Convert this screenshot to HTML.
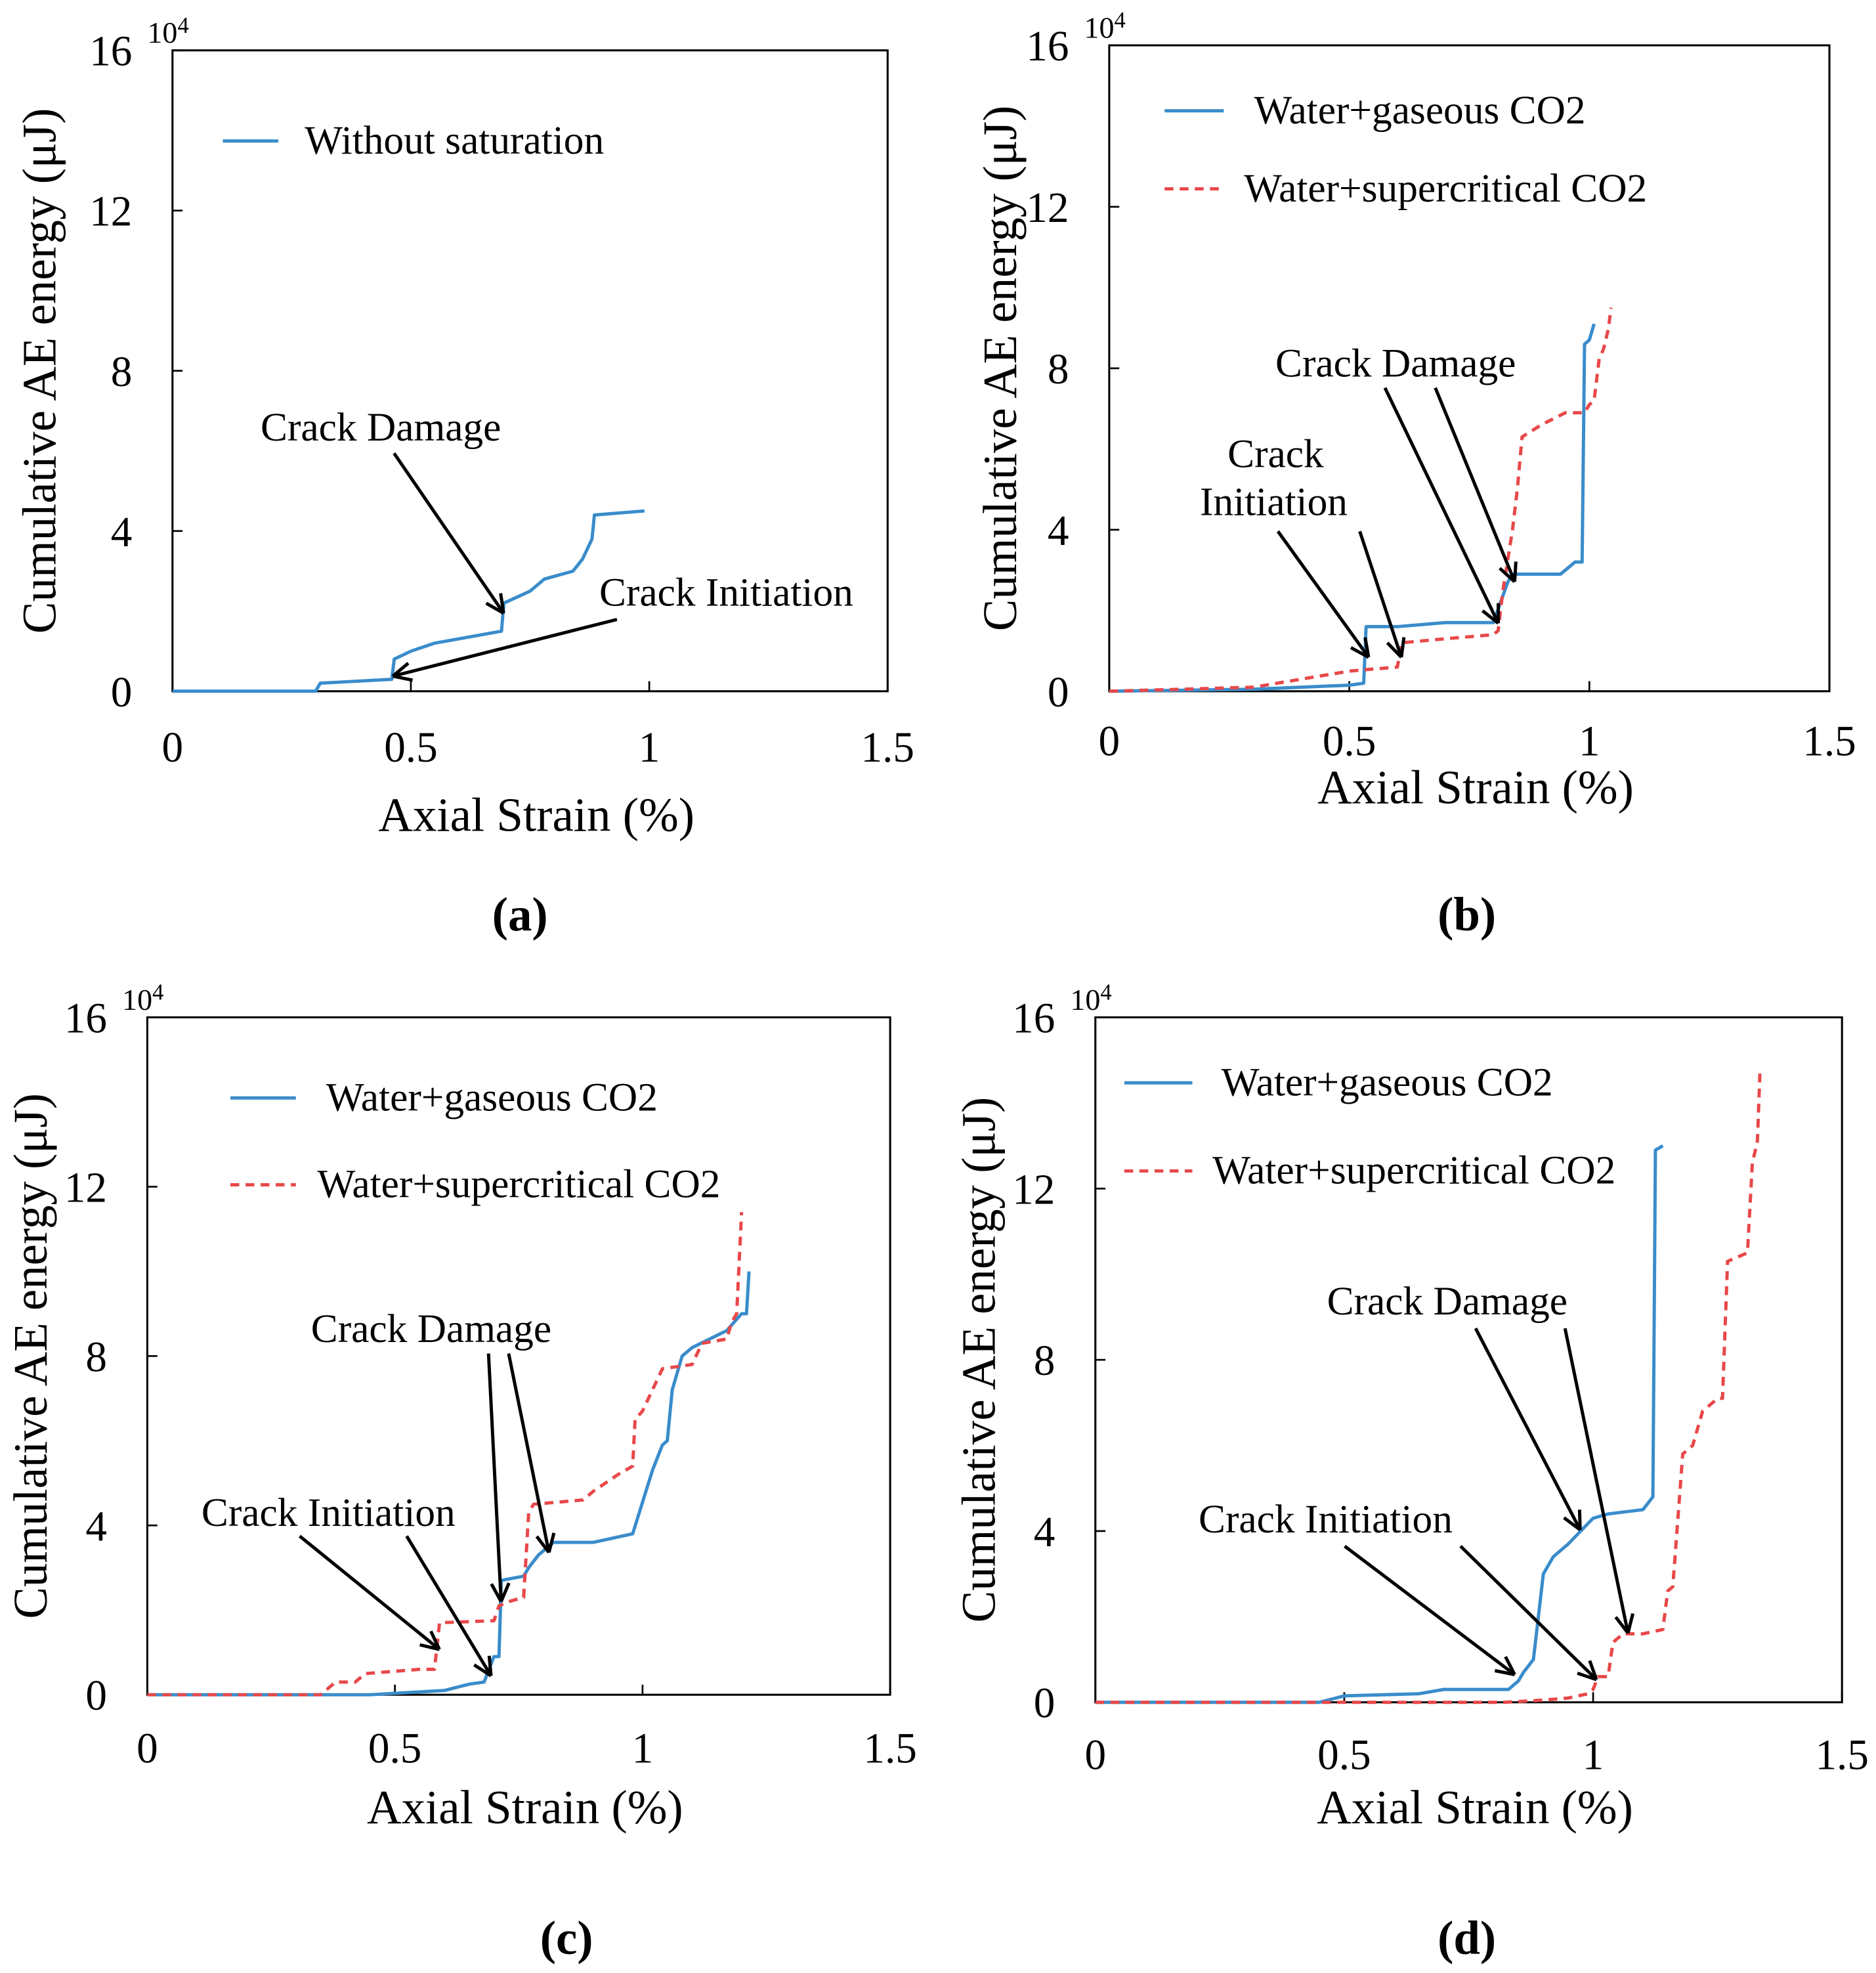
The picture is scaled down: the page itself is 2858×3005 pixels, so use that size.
<!DOCTYPE html>
<html><head><meta charset="utf-8"><style>
html,body{margin:0;padding:0;background:#fff;}
svg{display:block;font-family:"Liberation Serif",serif;}
</style></head><body>
<svg id="fig" width="2858" height="3005" viewBox="0 0 1490 1567" preserveAspectRatio="none" xmlns="http://www.w3.org/2000/svg"></svg>
<script>
const xTicks=[0,0.5,1,1.5];
const xTickLabels=["0","0.5","1","1.5"];
const yTicks=[0,4,8,12,16];
const yTickLabels=["0","4","8","12","16"];
const aBlueX=[0,0.3,0.31,0.46,0.465,0.5,0.55,0.69,0.695,0.75,0.78,0.84,0.86,0.88,0.885,0.99];
const aBlueY=[0,0,0.2,0.3,0.8,1.0,1.2,1.5,2.2,2.5,2.8,3.0,3.3,3.8,4.4,4.5];
const bBlueX=[0,0.3,0.5,0.53,0.535,0.6,0.7,0.8,0.83,0.84,0.94,0.97,0.985,0.99,1.0,1.01];
const bBlueY=[0,0.05,0.15,0.2,1.6,1.6,1.7,1.7,2.7,2.9,2.9,3.2,3.2,8.6,8.7,9.1];
const bRedX=[0,0.3,0.45,0.5,0.6,0.61,0.7,0.8,0.81,0.82,0.84,0.85,0.86,0.9,0.95,0.99,1.0,1.01,1.02,1.03,1.04,1.045];
const bRedY=[0,0.1,0.4,0.5,0.6,1.2,1.3,1.4,1.5,2.5,4.0,5.0,6.3,6.6,6.9,6.9,7.1,7.2,8.2,8.5,9.0,9.5];
const cBlueX=[0,0.45,0.6,0.65,0.68,0.69,0.7,0.71,0.715,0.76,0.77,0.79,0.82,0.9,0.98,1.02,1.04,1.05,1.06,1.08,1.1,1.17,1.2,1.21,1.215];
const cBlueY=[0,0,0.1,0.25,0.3,0.6,0.9,0.9,2.7,2.8,3.0,3.3,3.6,3.6,3.8,5.3,5.9,6.0,7.2,8.0,8.2,8.6,9.0,9.0,10.0];
const cRedX=[0,0.35,0.38,0.42,0.44,0.55,0.58,0.59,0.7,0.71,0.73,0.76,0.77,0.78,0.88,0.9,0.95,0.98,0.985,1.0,1.04,1.1,1.12,1.17,1.18,1.19,1.2];
const cRedY=[0,0,0.3,0.3,0.5,0.6,0.6,1.7,1.75,2.1,2.2,2.3,4.3,4.5,4.6,4.8,5.2,5.4,6.5,6.7,7.7,7.8,8.3,8.4,8.8,9.0,11.4];
const dBlueX=[0,0.45,0.5,0.65,0.7,0.83,0.85,0.86,0.88,0.9,0.92,0.95,1.0,1.03,1.1,1.12,1.125,1.14];
const dBlueY=[0,0,0.15,0.2,0.3,0.3,0.5,0.7,1.0,3.0,3.4,3.7,4.3,4.4,4.5,4.8,12.9,13.0];
const dRedX=[0,0.82,0.9,0.95,0.99,1.0,1.01,1.03,1.04,1.06,1.1,1.14,1.15,1.16,1.18,1.2,1.22,1.25,1.26,1.27,1.31,1.32,1.33,1.335];
const dRedY=[0,0,0.05,0.1,0.2,0.3,0.6,0.6,1.4,1.6,1.6,1.7,2.6,2.7,5.8,6.0,6.8,7.1,7.1,10.3,10.5,12.6,13.1,14.7];

const NS="http://www.w3.org/2000/svg";
const svg=document.getElementById('fig');
function mk(tag,attrs,parent){const e=document.createElementNS(NS,tag);for(const k in attrs)e.setAttribute(k,attrs[k]);(parent||svg).appendChild(e);return e;}
function txt(s,x,y,size,parent,anchor,weight){const t=mk('text',{x:x,y:y,'font-size':size,'text-anchor':anchor||'start','font-weight':weight||'normal',fill:'#000'},parent);t.textContent=s;return t;}
const BLUE="#3a8ccb",RED="#e8484a";
const panels=[
 {id:'a',L:137,R:705,T:40,B:549,xl:605,xt:660,yx:32,lab:[413,727],
  series:[[aBlueX,aBlueY,BLUE,false]],
  legend:[[177,221,112,242,"Without saturation",BLUE,false]],
  notes:[["Crack Damage",207,350],["Crack Initiation",476,481]],
  arrows:[[313,360,400,487],[490,492,312,537]]},
 {id:'b',L:881,R:1453,T:36,B:549,xl:600,xt:638,yx:795,lab:[1165,727],
  series:[[bBlueX,bBlueY,BLUE,false],[bRedX,bRedY,RED,true]],
  legend:[[925,972,88,996,"Water+gaseous CO2",BLUE,false],[925,972,150,988,"Water+supercritical CO2",RED,true]],
  notes:[["Crack Damage",1013,299],["Crack",975,371],["Initiation",953,409]],
  arrows:[[1100,308,1190,495],[1140,308,1203,462],[1015,422,1087,522],[1080,422,1113,522]]},
 {id:'c',L:117,R:707,T:808,B:1346,xl:1400,xt:1448,yx:25,lab:[450,1540],
  series:[[cBlueX,cBlueY,BLUE,false],[cRedX,cRedY,RED,true]],
  legend:[[183,235,872,259,"Water+gaseous CO2",BLUE,false],[183,235,941,252,"Water+supercritical CO2",RED,true]],
  notes:[["Crack Damage",247,1066],["Crack Initiation",160,1212]],
  arrows:[[388,1075,398,1272],[404,1075,436,1233],[238,1220,349,1310],[323,1220,390,1331]]},
 {id:'d',L:870,R:1463,T:808,B:1352,xl:1405,xt:1448,yx:778,lab:[1165,1540],
  series:[[dBlueX,dBlueY,BLUE,false],[dRedX,dRedY,RED,true]],
  legend:[[893,947,860,970,"Water+gaseous CO2",BLUE,false],[893,947,930,963,"Water+supercritical CO2",RED,true]],
  notes:[["Crack Damage",1054,1044],["Crack Initiation",952,1217]],
  arrows:[[1172,1055,1255,1215],[1243,1055,1293,1297],[1068,1228,1203,1330],[1160,1228,1268,1334]]}
];
panels.forEach(p=>{
 const g=mk('g',{});
 
 
 const sx=v=>p.L+(v-0)/1.5*(p.R-p.L);
 const sy=v=>p.B-(v/16)*(p.B-p.T);
 const box=mk('rect',{x:p.L,y:p.T,width:p.R-p.L,height:p.B-p.T,fill:'none',stroke:'#000','stroke-width':1.6},g);
 
 
 xTicks.forEach((v,i)=>{
  mk('line',{x1:sx(v),x2:sx(v),y1:p.B,y2:p.B-8,stroke:'#000','stroke-width':1.4},g);
  const t=txt(xTickLabels[i],sx(v),p.xl,34,g,'middle');
  
  
 });
 yTicks.forEach((v,i)=>{
  mk('line',{x1:p.L,x2:p.L+8,y1:sy(v),y2:sy(v),stroke:'#000','stroke-width':1.4},g);
  const t=txt(yTickLabels[i],p.L-32,sy(v)+12,34,g,'end');
  
  
 });
 const ex=txt("10",p.L-20,p.T-6,24,g,'start');
 
 
 const ts=mk('tspan',{dy:-8,'font-size':18},ex);ts.textContent="4";
 const xt=txt("Axial Strain (%)",(p.L+p.R)/2+5,p.xt,38,g,'middle');
 
 
 const ymid=(p.T+p.B)/2;
 const yt=txt("Cumulative AE energy (μJ)",0,0,38,g,'middle');
 yt.setAttribute('transform','translate('+(p.yx+12)+','+ymid+') rotate(-90)');
 
 
 const lb=txt('('+p.id+')',p.lab[0],p.lab[1]+12,38,g,'middle','bold');
 
 
 p.series.forEach(s=>{
  const pts=s[0].map((x,i)=>sx(x).toFixed(1)+','+sy(s[1][i]).toFixed(1)).join(' ');
  const pl=mk('polyline',{points:pts,fill:'none',stroke:s[2],'stroke-width':2.6,'stroke-dasharray':s[3]?'7,5':'none','stroke-linejoin':'round'},g);
  
  
 });
 p.legend.forEach(l=>{
  const lg=mk('g',{},g);
  
  
  mk('line',{x1:l[0],x2:l[1],y1:l[2],y2:l[2],stroke:l[5],'stroke-width':2.6,'stroke-dasharray':l[6]?'7,5':'none'},lg);
  txt(l[4],l[3],l[2]+10,32,lg,'start');
 });
 p.notes.forEach(n=>{
  const t=txt(n[0],n[1],n[2],32,g,'start');
  
  
 });
 p.arrows.forEach(a=>{
  const ag=mk('g',{stroke:'#000','stroke-width':2.6,fill:'none'},g);
  
  
  mk('line',{x1:a[0],y1:a[1],x2:a[2],y2:a[3]},ag);
  const ang=Math.atan2(a[3]-a[1],a[2]-a[0]),h=16;
  [0.45,-0.45].forEach(d=>{
   mk('line',{x1:a[2],y1:a[3],x2:a[2]-h*Math.cos(ang+d),y2:a[3]-h*Math.sin(ang+d)},ag);
  });
 });
});
</script>
</body></html>
